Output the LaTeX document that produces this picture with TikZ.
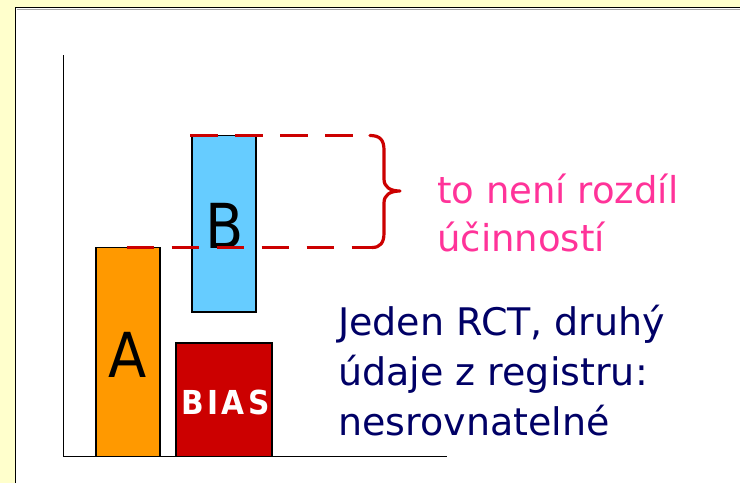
\documentclass[tikz,border=0pt]{standalone}
\usepackage{fontspec}
\setmainfont{DejaVu Sans Condensed}
\newfontfamily\notefont{DejaVu Sans}
\definecolor{bgyellow}{HTML}{FFFFCC}
\definecolor{barorange}{HTML}{FF9900}
\definecolor{barblue}{HTML}{66CCFF}
\definecolor{barred}{HTML}{CC0000}
\definecolor{pinktext}{HTML}{FF3399}
\definecolor{navytext}{HTML}{000066}
\definecolor{dashred}{HTML}{CC0000}
\tikzset{
  barbox/.style={draw=black, line width=1.6pt, inner sep=0pt, outer sep=0pt, anchor=south west},
  bigletter/.style={font=\fontsize{62}{62}\selectfont, text=black, inner sep=0pt, anchor=base},
  reddash/.style={draw=dashred, line width=3.2pt, dash pattern=on 27.5pt off 17.5pt},
  bracestyle/.style={draw=dashred, line width=3.2pt, line cap=round, line join=round},
  notetext/.style={align=left, inner sep=0pt, anchor=base west},
}
\begin{document}
\begin{tikzpicture}[x=1pt,y=-1pt]
\fill[bgyellow] (0,0) rectangle (740,483);
\useasboundingbox (0,0) rectangle (740,483);
\fill[white] (15.5,7.5) rectangle (740,483);
\draw[black!35, line width=1pt] (16.5,9.3) -- (740,9.3);
\draw[black, line width=1.8pt] (15.5,483) -- (15.5,7.5) -- (740,7.5);
% axes
\coordinate (ytop) at (63.5,55);
\coordinate (origin) at (63.5,456.5);
\coordinate (xend) at (447,456.5);
\draw[black, line width=1.5pt] (ytop) -- (origin) -- (xend);
% bars
\node[barbox, fill=barorange, minimum width=64pt, minimum height=209pt] (barA) at (96,456.5) {};
\node[barbox, fill=barblue, minimum width=64pt, minimum height=176.5pt] (barB) at (192,312) {};
\node[barbox, fill=barred, minimum width=96pt, minimum height=113.5pt] (barBias) at (176,456.5) {};
\node[bigletter] (labA) at (127.5,377) {A};
\node[bigletter] (labB) at (225,248) {B};
\node[inner sep=0pt, anchor=base, text=white, font=\bfseries\fontsize{33}{33}\selectfont\addfontfeature{LetterSpace=10}] (labBias) at (225.5,414) {BIAS};
% dashed lines and brace
\coordinate (dtopstart) at (190,135.5);
\coordinate (dtopend) at (370,135.5);
\coordinate (dlowstart) at (126.7,247.5);
\coordinate (dlowend) at (372,247.5);
\coordinate (bracetip) at (400,191);
\draw[reddash] (dtopstart) -- (dtopend);
\draw[reddash] (dlowstart) -- (dlowend);
\draw[bracestyle] (dtopend) .. controls (380,135.5) and (384,140) .. (384,150)
  -- (384,179) .. controls (384,187) and (390,191) .. (bracetip)
  .. controls (390,191) and (384,195) .. (384,203)
  -- (384,233) .. controls (384,243) and (380,247.5) .. (dlowend);
% texts (base anchor = baseline of last line)
\node[notetext, text=pinktext, font=\notefont\fontsize{37}{48}\selectfont] (pinknote) at (437,251.3) {to není rozdíl\\účinností};
\node[notetext, text=navytext, font=\notefont\fontsize{38}{50}\selectfont] (navynote) at (338,435) {Jeden RCT, druhý\\údaje z registru:\\nesrovnatelné};
\end{tikzpicture}
\end{document}
